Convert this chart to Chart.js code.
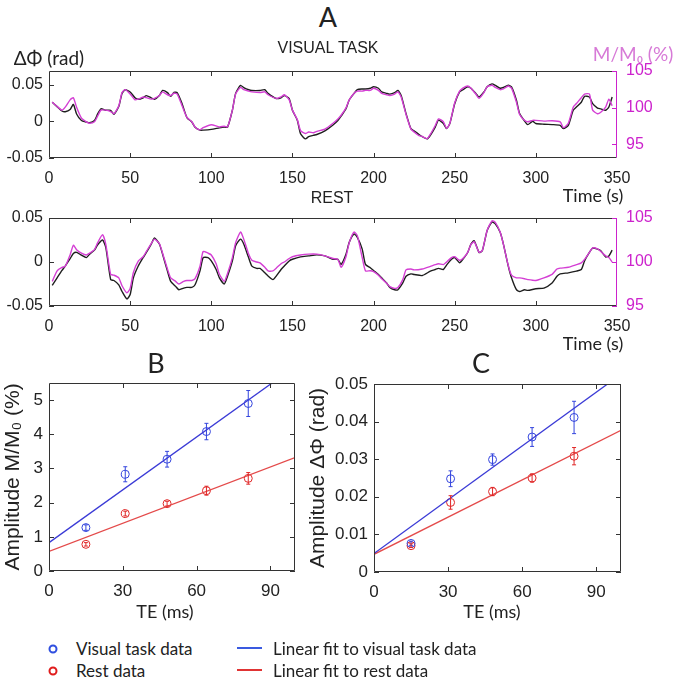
<!DOCTYPE html>
<html>
<head>
<meta charset="utf-8">
<script src="https://cdn.jsdelivr.net/npm/chart.js@4.4.1/dist/chart.umd.min.js"></script>
<style>
  body { margin: 0; background: #fff; width: 677px; height: 682px; position: relative; overflow: hidden; font-family: Lato, sans-serif; color: #222; }
  canvas { position: absolute; }
  .t { position: absolute; white-space: nowrap; line-height: 1; transform: translate(-50%, -50%); }
  .l { position: absolute; white-space: nowrap; line-height: 1; transform: translateY(-50%); font-size: 17px; }
  .dot { position: absolute; width: 5px; height: 5px; border-radius: 50%; border: 2.5px solid; transform: translate(-50%, -50%); }
  .bar { position: absolute; width: 25px; height: 2px; transform: translateY(-50%); }
</style>
</head>
<body>
<canvas id="visual" width="677" height="136" style="left:0;top:62px"></canvas>
<canvas id="rest" width="677" height="136" style="left:0;top:210px"></canvas>
<canvas id="fitB" width="312" height="240" style="left:0;top:370px"></canvas>
<canvas id="fitC" width="332" height="240" style="left:305px;top:370px"></canvas>

<div class="t" style="left:328px;top:16px;font-size:27px">A</div>
<div class="t" style="left:49px;top:57px;font-size:19px">ΔΦ (rad)</div>
<div class="t" style="left:328px;top:48px;font-size:16px;font-family:'Liberation Sans'">VISUAL TASK</div>
<div class="t" style="left:633px;top:53px;font-size:19px;color:#d77ad7">M/M₀ (%)</div>
<div class="t" style="left:593px;top:195px;font-size:18px">Time (s)</div>
<div class="t" style="left:332px;top:198px;font-size:16px;font-family:'Liberation Sans'">REST</div>
<div class="t" style="left:593px;top:343px;font-size:18px">Time (s)</div>
<div class="t" style="left:156px;top:362px;font-size:27px">B</div>
<div class="t" style="left:481px;top:362px;font-size:27px">C</div>
<div class="t" style="left:165px;top:611px;font-size:18px">TE (ms)</div>
<div class="t" style="left:492px;top:611px;font-size:18px">TE (ms)</div>

<div class="dot" style="left:53px;top:649px;border-color:#2f4fe0"></div>
<div class="l" style="left:76px;top:648px">Visual task data</div>
<div class="bar" style="left:237px;top:648px;background:#3a5ae0"></div>
<div class="l" style="left:273px;top:648px">Linear fit to visual task data</div>
<div class="dot" style="left:53px;top:671px;border-color:#e01c1c"></div>
<div class="l" style="left:76px;top:670px">Rest data</div>
<div class="bar" style="left:237px;top:670px;background:#e03434"></div>
<div class="l" style="left:273px;top:670px">Linear fit to rest data</div>

<script>
// ---- panel A, visual task ----
const timeVisual = [2,5,8,10,13,15,17,20,23,25,28,30,32,35,38,40,43,45,47,50,53,55,58,60,63,65,68,70,73,75,77,79,82,85,88,90,93,95,100,105,108,110,113,115,118,120,123,125,130,133,135,140,143,145,148,150,153,155,158,160,163,165,170,175,178,180,183,185,188,190,193,195,198,200,203,205,208,210,213,215,217,220,223,225,228,230,233,235,238,240,243,245,247,250,253,255,258,260,263,265,268,270,273,275,278,280,283,285,288,290,293,295,298,300,305,310,315,317,320,323,325,328,330,333,335,338,340,343,345,347];
const phaseVisual = [0.026,0.02,0.014,0.013,0.016,0.023,0.01,0.001,-0.001,-0.002,0.001,0.01,0.017,0.015,0.015,0.0095,0.02,0.038,0.043,0.04,0.032,0.03,0.032,0.035,0.032,0.03,0.035,0.042,0.039,0.034,0.0395,0.039,0.024,0.005,-0.001,-0.008,-0.012,-0.012,-0.011,-0.009,-0.008,-0.008,0.015,0.038,0.049,0.046,0.043,0.042,0.042,0.043,0.038,0.031,0.032,0.035,0.031,0.015,0.0015,-0.017,-0.024,-0.021,-0.019,-0.018,-0.013,-0.005,0.001,0.007,0.017,0.029,0.038,0.043,0.044,0.044,0.045,0.047,0.045,0.04,0.038,0.037,0.039,0.042,0.035,0.0105,-0.01,-0.013,-0.018,-0.021,-0.024,-0.019,-0.008,0.0015,-0.003,-0.01,-0.003,0.024,0.04,0.043,0.047,0.045,0.038,0.033,0.04,0.047,0.051,0.049,0.045,0.046,0.049,0.047,0.029,0.0105,0.0005,-0.0045,0,-0.003,-0.004,-0.0045,-0.0055,-0.01,-0.0055,0.015,0.0195,0.026,0.034,0.033,0.024,0.018,0.017,0.015,0.0195,0.033];
const magVisual = [100.75,100.15,99.65,100.05,101.05,101.35,100.05,98.55,98.05,97.85,98.05,98.85,99.65,99.65,99.45,99.15,100.25,102.05,102.45,101.85,101.05,101.15,101.45,101.35,101.15,101.25,101.65,102.15,101.75,101.65,101.95,101.85,100.25,98.65,98.05,97.35,96.95,97.25,97.65,97.35,97.45,97.35,99.65,101.85,102.75,102.45,102.25,102.15,102.05,102.15,101.75,101.25,101.45,101.75,101.05,99.65,98.35,96.85,96.45,96.65,96.55,96.75,97.05,97.85,98.45,98.95,99.95,101.05,101.95,102.25,102.25,102.35,102.35,102.65,102.35,101.95,101.75,101.65,101.85,102.15,101.45,99.05,97.05,96.65,96.15,96.05,95.75,96.35,97.55,98.45,98.05,97.15,97.85,100.65,102.25,102.65,102.95,102.65,101.85,101.25,102.05,102.85,103.05,102.75,102.45,102.55,102.95,102.65,100.75,99.05,98.25,98.05,98.25,98.25,98.15,98.2,98.05,97.25,97.85,100.05,100.55,101.35,101.85,101.85,99.65,99.15,99.35,100.05,101.15,100.25];

// ---- panel A, rest ----
const timeRest = [2,5,8,10,13,15,17,20,23,25,28,30,33,35,38,40,43,45,48,50,52,55,58,60,63,65,68,70,73,75,78,80,83,85,88,90,93,95,98,100,103,105,108,110,113,115,118,120,123,125,128,130,133,135,138,140,143,145,148,150,155,160,165,170,175,178,180,183,185,188,190,193,195,198,200,203,205,208,210,213,215,218,220,223,225,230,235,238,240,243,245,248,250,253,255,258,260,262,265,267,270,273,275,278,280,283,285,288,290,293,295,300,305,310,313,315,320,325,328,330,333,335,338,340,343,345,347];
const phaseRest = [-0.0265,-0.018,-0.0096,-0.0046,0.0038,0.0096,0.011,0.0077,0.005,0.0088,0.0135,0.0196,0.025,0.0165,-0.02,-0.021,-0.026,-0.0335,-0.042,-0.037,-0.018,-0.0046,0.005,0.0108,0.0204,0.0273,0.0204,0.0088,-0.0104,-0.022,-0.0277,-0.0315,-0.0296,-0.0288,-0.0288,-0.0258,-0.0104,0.005,0.005,0.0012,-0.0085,-0.018,-0.025,-0.0162,0.0012,0.0185,0.026,0.0204,0.005,-0.0046,-0.0073,-0.0073,-0.0123,-0.016,-0.02,-0.016,-0.0085,-0.0046,0.0012,0.0031,0.0058,0.0069,0.0081,0.0069,0.0031,0.003,-0.0027,0.0088,0.0223,0.032,0.028,0.0146,-0.0027,-0.0065,-0.0096,-0.0142,-0.018,-0.0238,-0.0288,-0.0315,-0.0315,-0.0238,-0.0162,-0.0135,-0.0142,-0.0154,-0.0104,-0.0085,-0.0073,-0.0085,-0.0035,0.0031,0.005,-0.0008,0.0031,0.0108,0.0204,0.0242,0.0108,0.0127,0.0358,0.0454,0.0435,0.0338,0.0204,-0.0046,-0.018,-0.0315,-0.0335,-0.0315,-0.0323,-0.0304,-0.0296,-0.0238,-0.0162,-0.0135,-0.0123,-0.0104,-0.0085,0.0012,0.0108,0.0158,0.0146,0.0127,0.0058,0.0069,0.0135];
const magRest = [97.8,99.0,99.4,99.5,100.8,101.9,101.4,101.0,100.8,101.0,101.4,102.2,103.1,102.0,98.6,98.5,98.2,97.3,96.5,97.0,98.8,100.1,100.6,101.2,102.1,102.6,102.1,101.0,99.2,98.2,97.8,97.5,97.8,97.9,97.9,98.1,99.5,101.2,101.0,100.8,99.8,98.6,97.8,98.7,100.5,102.2,103.4,102.6,100.9,100.2,100.0,99.9,99.4,99.0,99.0,99.3,99.8,100.0,100.4,100.6,100.8,100.9,100.9,100.7,100.4,100.3,99.4,100.6,102.2,103.4,103.0,100.5,99.0,99.0,98.9,98.5,98.1,97.6,97.2,97.0,97.1,98.0,99.1,99.2,99.1,99.2,99.5,99.7,99.8,99.7,100.0,100.5,100.6,100.2,100.4,101.1,102.0,102.3,101.1,101.3,103.6,104.7,104.5,103.4,102.0,99.6,98.5,98.2,98.2,98.1,98.0,97.9,98.2,98.6,99.2,99.3,99.4,99.7,99.9,100.3,101.1,101.6,101.5,101.2,100.7,100.5,100.0];

// ---- panels B and C ----
const echoTimes = [15, 31, 48, 64, 81];
const ampVisualB = [1.27, 2.83, 3.27, 4.08, 4.9];
const errVisualB = [0.08, 0.22, 0.23, 0.24, 0.38];
const ampRestB = [0.78, 1.68, 1.97, 2.35, 2.71];
const errRestB = [0.05, 0.07, 0.07, 0.13, 0.17];
const fitVisualB = [0.83, 5.98];   // values at TE = 0 and 100
const fitRestB = [0.57, 3.32];

const ampVisualC = [0.0076, 0.0248, 0.0299, 0.0359, 0.0411];
const errVisualC = [0.0006, 0.0021, 0.0015, 0.0025, 0.0043];
const ampRestC = [0.0070, 0.0185, 0.0214, 0.0250, 0.0308];
const errRestC = [0.0005, 0.0018, 0.0011, 0.0011, 0.0023];
const fitVisualC = [0.0049, 0.0526];
const fitRestC = [0.0047, 0.0377];
const fitEnds = [0, 100];

const MAGENTA = '#cc22cc';
const BLUE = '#3344dd';
const RED = '#e02626';
const tickFont = (size) => ({ family: "'Liberation Sans', Arial, sans-serif", size });

// inward tick marks and box like the matlab axes
const boxPlugin = {
  id: 'box',
  afterDraw(chart) {
    const { ctx, chartArea: a, scales } = chart;
    const len = 5;
    const seg = (x1, y1, x2, y2) => { ctx.beginPath(); ctx.moveTo(x1, y1); ctx.lineTo(x2, y2); ctx.stroke(); };
    ctx.save();
    ctx.lineWidth = 1;
    ctx.strokeStyle = '#333';
    scales.x.ticks.forEach(t => {
      const px = Math.round(scales.x.getPixelForValue(t.value)) + 0.5;
      if (t.value <= scales.x.min || t.value >= scales.x.max) return;
      seg(px, a.bottom, px, a.bottom - len);
      seg(px, a.top, px, a.top + len);
    });
    scales.y.ticks.forEach(t => {
      const py = Math.round(scales.y.getPixelForValue(t.value)) + 0.5;
      seg(a.left, py, a.left + len, py);
      if (!scales.y2) seg(a.right, py, a.right - len, py);
    });
    const L = Math.round(a.left) + 0.5, R = Math.round(a.right) - 0.5;
    const T = Math.round(a.top) + 0.5, B = Math.round(a.bottom) - 0.5;
    seg(L, T, R, T); seg(L, B, R, B); seg(L, T, L, B);
    if (scales.y2) {
      ctx.strokeStyle = MAGENTA;
      scales.y2.ticks.forEach(t => {
        const py = Math.round(scales.y2.getPixelForValue(t.value)) + 0.5;
        seg(a.right, py, a.right - len, py);
      });
    }
    seg(R, T, R, B);
    ctx.restore();
  }
};

// vertical error bars with caps
const errorPlugin = {
  id: 'errors',
  afterDatasetsDraw(chart) {
    const { ctx, scales } = chart;
    chart.data.datasets.forEach(ds => {
      if (!ds.errors) return;
      ctx.save();
      ctx.strokeStyle = ds.borderColor;
      ctx.lineWidth = 1;
      ds.data.forEach((p, i) => {
        const x = scales.x.getPixelForValue(p.x);
        const y1 = scales.y.getPixelForValue(p.y - ds.errors[i]);
        const y2 = scales.y.getPixelForValue(p.y + ds.errors[i]);
        ctx.beginPath();
        ctx.moveTo(x, y1); ctx.lineTo(x, y2);
        ctx.moveTo(x - 2, y1); ctx.lineTo(x + 2, y1);
        ctx.moveTo(x - 2, y2); ctx.lineTo(x + 2, y2);
        ctx.stroke();
      });
      ctx.restore();
    });
  }
};

function fixedTicks(values) {
  return s => { s.ticks = values.map(v => ({ value: v })); };
}
// fixed scale sizes, no extra label padding
const fitY = (w) => s => { s.width = w; s.paddingTop = 0; s.paddingBottom = 0; };
const fitX = (h) => s => { s.height = h; s.paddingLeft = 0; s.paddingRight = 0; };

function timeChart(id, time, phase, mag, yMax, rMin, padTop) {
  const pts = (arr) => time.map((t, i) => ({ x: t, y: arr[i] }));
  new Chart(document.getElementById(id), {
    type: 'line',
    data: {
      datasets: [
        { data: pts(mag), yAxisID: 'y2', borderColor: '#d43fd4', borderWidth: 1.4, pointRadius: 0, tension: 0.2, order: 1 },
        { data: pts(phase), yAxisID: 'y', borderColor: '#1e1e1e', borderWidth: 1.4, pointRadius: 0, tension: 0.2, order: 2 },
      ],
    },
    options: {
      responsive: false,
      animation: false,
      layout: { padding: { top: padTop } },
      plugins: { legend: { display: false }, tooltip: { enabled: false } },
      scales: {
        x: {
          type: 'linear', min: 0, max: 350,
          ticks: { stepSize: 50, font: tickFont(16), color: '#222', padding: 11, maxRotation: 0 },
          grid: { display: false, drawTicks: false }, border: { display: false },
          afterFit: fitX(40),
        },
        y: {
          position: 'left', min: -0.05, max: yMax,
          afterBuildTicks: fixedTicks([-0.05, 0, 0.05]),
          ticks: { font: tickFont(16), color: '#222', padding: 6, callback: v => String(v) },
          grid: { display: false, drawTicks: false }, border: { display: false },
          afterFit: fitY(49),
        },
        y2: {
          position: 'right', min: rMin, max: 105,
          afterBuildTicks: fixedTicks([95, 100, 105]),
          ticks: { font: tickFont(16), color: MAGENTA, padding: 9, callback: v => String(v) },
          grid: { display: false, drawTicks: false }, border: { display: false },
          afterFit: fitY(60),
        },
      },
    },
    plugins: [boxPlugin],
  });
}

function fitChart(id, ampV, errV, ampR, errR, fitV, fitR, yMax, yStep, yTitle, yWidth, padTop, padRight) {
  const pts = (arr) => echoTimes.map((t, i) => ({ x: t, y: arr[i] }));
  const line = (arr) => fitEnds.map((t, i) => ({ x: t, y: arr[i] }));
  const yTicks = [];
  for (let v = 0; v <= yMax + 1e-9; v += yStep) yTicks.push(+v.toFixed(4));
  new Chart(document.getElementById(id), {
    type: 'scatter',
    data: {
      datasets: [
        { type: 'line', data: line(fitV), borderColor: '#3b3bd6', borderWidth: 1.3, pointRadius: 0 },
        { type: 'line', data: line(fitR), borderColor: '#e44a4a', borderWidth: 1.3, pointRadius: 0 },
        { data: pts(ampV), errors: errV, borderColor: BLUE, backgroundColor: 'rgba(0,0,0,0)', borderWidth: 1, pointRadius: 4 },
        { data: pts(ampR), errors: errR, borderColor: RED, backgroundColor: 'rgba(0,0,0,0)', borderWidth: 1, pointRadius: 4 },
      ],
    },
    options: {
      responsive: false,
      animation: false,
      layout: { padding: { top: padTop, right: padRight } },
      plugins: { legend: { display: false }, tooltip: { enabled: false } },
      scales: {
        x: {
          type: 'linear', min: 0, max: 100,
          afterBuildTicks: fixedTicks([0, 30, 60, 90]),
          ticks: { font: tickFont(17), color: '#222', padding: 10, callback: v => String(v) },
          grid: { display: false, drawTicks: false }, border: { display: false },
          afterFit: fitX(240 - padTop - 188),
        },
        y: {
          min: 0, max: yMax,
          afterBuildTicks: fixedTicks(yTicks),
          ticks: { font: tickFont(17), color: '#222', padding: 6, callback: v => String(v) },
          title: { display: true, text: yTitle, font: tickFont(21), color: '#222', padding: { top: 1, bottom: 0 } },
          grid: { display: false, drawTicks: false }, border: { display: false },
          afterFit: fitY(yWidth),
        },
      },
    },
    plugins: [boxPlugin, errorPlugin],
  });
}

timeChart('visual', timeVisual, phaseVisual, magVisual, 0.0685, 93.1, 9);
timeChart('rest', timeRest, phaseRest, magRest, 0.05, 95, 8);
fitChart('fitB', ampVisualB, errVisualB, ampRestB, errRestB, fitVisualB, fitRestB, 5.5, 1, 'Amplitude M/M₀ (%)', 49, 13, 17);
fitChart('fitC', ampVisualC, errVisualC, ampRestC, errRestC, fitVisualC, fitRestC, 0.05, 0.01, 'Amplitude ΔΦ (rad)', 69, 14, 16);
</script>
</body>
</html>
